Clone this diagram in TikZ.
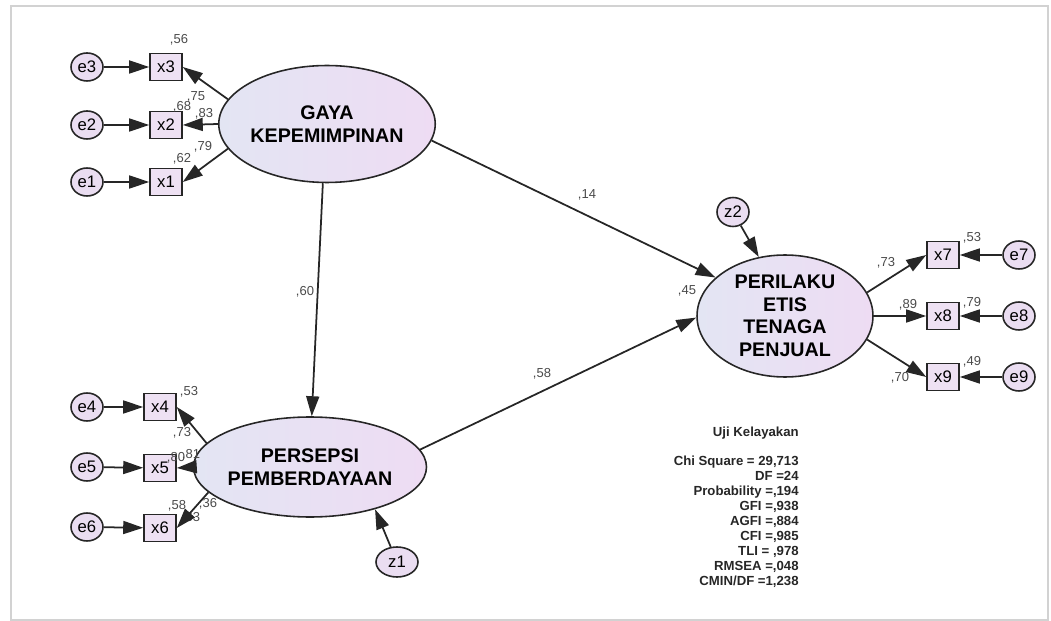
\documentclass[tikz,border=0pt]{standalone}
\usepackage{fontspec}
\setmainfont{Liberation Sans}
\usepackage{xcolor}
\usetikzlibrary{arrows.meta, positioning, shapes.geometric}
\definecolor{latleft}{HTML}{E3E5F3}
\definecolor{latright}{HTML}{EEDCF3}
\definecolor{errfill}{HTML}{EADDF1}
\definecolor{obsfill}{HTML}{EEE1F3}
\definecolor{linegray}{HTML}{262626}
\definecolor{numgray}{HTML}{4A4A4A}

\begin{document}
\begin{tikzpicture}[x=0.02cm, y=-0.02cm,
    latent/.style={ellipse, draw=linegray, line width=0.9pt, left color=latleft, right color=latright,
        inner sep=0pt, align=center, font=\fontsize{11.2}{12.8}\selectfont\bfseries},
    obs/.style={rectangle, draw=linegray, line width=0.9pt, fill=obsfill, minimum width=6.4mm,
        minimum height=5.4mm, inner sep=0pt, font=\fontsize{9.5}{10}\selectfont},
    err/.style={ellipse, draw=linegray, line width=0.9pt, fill=errfill, minimum width=6.4mm,
        minimum height=5.6mm, inner sep=0pt, font=\fontsize{9.5}{10}\selectfont},
    arr/.style={draw=linegray, line width=1pt, -{Triangle[length=4mm, width=2.6mm]}},
    est/.style={font=\fontsize{7.4}{8}\selectfont, text=numgray, inner sep=0pt},
    stat/.style={align=right, inner sep=0pt, text=black!85, font=\fontsize{7.5}{8.5}\selectfont\bfseries}]
    \useasboundingbox (0,0) rectangle (1051,621);
    % bingkai
    \draw[gray!35, line width=0.8pt] (11,6) rectangle (1048,620);

    % variabel laten
    \node[latent, minimum width=41.6mm, minimum height=23.4mm] (gaya) at (327,124) {GAYA\\KEPEMIMPINAN};
    \node[latent, minimum width=40.8mm, minimum height=20mm] (persepsi) at (310,467) {PERSEPSI\\PEMBERDAYAAN};
    \node[latent, minimum width=35.2mm, minimum height=24.4mm] (perilaku) at (785,316) {PERILAKU\\ETIS\\TENAGA\\PENJUAL};

    % indikator
    \node[obs] (x3) at (166,67) {x3};
    \node[obs] (x2) at (166,125) {x2};
    \node[obs] (x1) at (166,182) {x1};
    \node[obs] (x4) at (160,407) {x4};
    \node[obs] (x5) at (160,468) {x5};
    \node[obs] (x6) at (160,528) {x6};
    \node[obs] (x7) at (943,255) {x7};
    \node[obs] (x8) at (943,316) {x8};
    \node[obs] (x9) at (943,377) {x9};

    % error
    \node[err] (e3) at (87,67) {e3};
    \node[err] (e2) at (87,125) {e2};
    \node[err] (e1) at (87,182) {e1};
    \node[err] (e4) at (87,407) {e4};
    \node[err] (e5) at (87,467) {e5};
    \node[err] (e6) at (87,527) {e6};
    \node[err] (e7) at (1019,255) {e7};
    \node[err] (e8) at (1019,316) {e8};
    \node[err] (e9) at (1019,377) {e9};
    \node[err, minimum width=8.4mm, minimum height=6mm] (z1) at (397,562) {z1};
    \node[err, minimum height=5.8mm] (z2) at (733,212) {z2};

    % estimasi
    \node[est] (r56) at (179,40) {,56};
    \node[est] (r68) at (182,107) {,68};
    \node[est] (l75) at (196,97) {,75};
    \node[est] (l83) at (204,114) {,83};
    \node[est] (r62) at (182,159) {,62};
    \node[est] (l79) at (203,147) {,79};
    \node[est] (r53a) at (189,392) {,53};
    \node[est] (l73a) at (182,433) {,73};
    \node[est] (r80) at (176,458) {,80};
    \node[est] (l81) at (191,455) {,81};
    \node[est] (r58) at (177,506) {,58};
    \node[est] (l36) at (208,504) {,36};
    \node[est] (l63) at (191,518) {,63};
    \node[est] (l60) at (305,292) {,60};
    \node[est] (l14) at (587,195) {,14};
    \node[est] (l58) at (542,374) {,58};
    \node[est] (r45) at (687,291) {,45};
    \node[est] (l73b) at (886,263) {,73};
    \node[est] (l89) at (908,305) {,89};
    \node[est] (l70) at (900,378) {,70};
    \node[est] (r53b) at (972,238) {,53};
    \node[est] (r79) at (972,303) {,79};
    \node[est] (r49) at (972,362) {,49};

    % panah
    \foreach \e/\x in {e1/x1, e2/x2, e3/x3, e4/x4, e5/x5, e6/x6, e7/x7, e8/x8, e9/x9}
        \draw[arr] (\e) -- (\x);
    \draw[arr] (gaya.166) -- (x3.east);
    \draw[arr] (gaya.180) -- (x2.east);
    \draw[arr] (gaya.194) -- (x1.east);
    \draw[arr] (persepsi.167) -- (x4.east);
    \draw[arr] (persepsi.180) -- (x5.east);
    \draw[arr] (persepsi.194) -- (x6.east);
    \draw[arr] (perilaku.16) -- (x7.west);
    \draw[arr] (perilaku.0) -- (x8.west);
    \draw[arr] (perilaku.-16) -- (x9.west);
    \draw[arr] (gaya.266) -- (persepsi.88);
    \draw[arr] (gaya.351) -- (perilaku.151);
    \draw[arr] (persepsi.9) -- (perilaku.181);
    \draw[arr] (z1) -- (persepsi.327);
    \draw[arr] (z2) -- (perilaku.114);

    % uji kelayakan
    \node[stat, anchor=north east] (uji) at (799,427) {Uji Kelayakan\\[8pt]
        Chi Square = 29,713\\DF =24\\Probability =,194\\GFI =,938\\AGFI =,884\\
        CFI =,985\\TLI = ,978\\RMSEA =,048\\CMIN/DF =1,238};
\end{tikzpicture}
\end{document}
